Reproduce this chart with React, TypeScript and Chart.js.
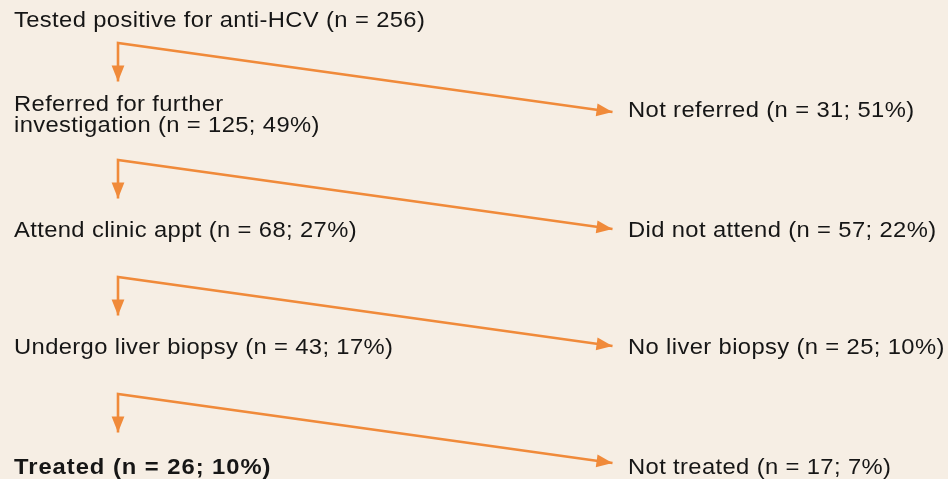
import React, { useEffect, useRef } from "react";
import { Chart, registerables } from "chart.js";

Chart.register(...registerables);

// ---- data ----
const stageLabels = [
  "Tested positive for anti-HCV",
  "Referred for further\ninvestigation",
  "Attend clinic appt",
  "Undergo liver biopsy",
  "Treated",
];
const stageN = [256, 125, 68, 43, 26];
const stagePct: (number | null)[] = [null, 49, 27, 17, 10];

const exitLabels = ["Not referred", "Did not attend", "No liver biopsy", "Not treated"];
const exitN = [31, 57, 25, 17];
const exitPct = [51, 22, 10, 7];

// ---- style ----
const BG = "#f6eee4";
const ORANGE = "#f08a3a";
const TEXT = "#161616";
const FONT_FAMILY = '"Liberation Sans", Arial, Helvetica, sans-serif';
const FONT_SIZE = 22;
const STRETCH = 1.08;
const SPACING = "0.35px";
const SPACING_BOLD = "0.9px";

// layout: x in px-units, y in step units (one step per stage)
const STEP_PX = 117;
const OFFSET_PX = -5;
const u = (px: number) => (px - OFFSET_PX) / STEP_PX;

const X_LEFT = 14;
const X_STEM = 118;
const X_EXIT_TIP = 612.5;
const X_RIGHT = 628;
const CORNER_OFF = u(43);
const DOWN_TIP_OFF = u(81.5);
const LEFT_BASELINES = [u(26.7), u(132), u(236.6), u(354), u(474.3)];
const RIGHT_BASELINES = [u(117.3), u(236.6), u(354), u(474.3)];
const LINE_GAP = 21 / STEP_PX;

function label(name: string, n: number, pct: number | null) {
  return pct == null ? `${name} (n = ${n})` : `${name} (n = ${n}; ${pct}%)`;
}

const connectors = exitLabels.map((_, i) => ({
  type: "line" as const,
  data: [
    { x: X_STEM, y: i + DOWN_TIP_OFF },
    { x: X_STEM, y: i + CORNER_OFF },
    { x: X_EXIT_TIP, y: i + 1 },
  ],
  borderColor: ORANGE,
  borderWidth: 2.6,
  pointRadius: 0,
  showLine: true,
  tension: 0,
  borderJoinStyle: "miter" as const,
}));

function drawArrow(ctx: CanvasRenderingContext2D, fromX: number, fromY: number, tipX: number, tipY: number) {
  const ang = Math.atan2(tipY - fromY, tipX - fromX);
  const len = 16;
  const half = 6.4;
  ctx.save();
  ctx.translate(tipX, tipY);
  ctx.rotate(ang);
  ctx.beginPath();
  ctx.moveTo(0, 0);
  ctx.lineTo(-len, -half);
  ctx.lineTo(-len, half);
  ctx.closePath();
  ctx.fillStyle = ORANGE;
  ctx.fill();
  ctx.restore();
}

function drawText(ctx: CanvasRenderingContext2D, text: string, x: number, y: number) {
  ctx.save();
  ctx.translate(x, y);
  ctx.scale(STRETCH, 1);
  ctx.fillText(text, 0, 0);
  ctx.restore();
}

const flowPlugin = {
  id: "flow",
  beforeDraw(chart: any) {
    const ctx = chart.ctx;
    ctx.save();
    ctx.fillStyle = BG;
    ctx.fillRect(0, 0, chart.width, chart.height);
    ctx.restore();
  },
  afterDatasetsDraw(chart: any) {
    const ctx = chart.ctx;
    chart.data.datasets.forEach((_: any, di: number) => {
      const pts = chart.getDatasetMeta(di).data;
      if (pts.length < 2) return;
      drawArrow(ctx, pts[1].x, pts[1].y, pts[0].x, pts[0].y);
      const n = pts.length;
      drawArrow(ctx, pts[n - 2].x, pts[n - 2].y, pts[n - 1].x, pts[n - 1].y);
    });
  },
  afterDraw(chart: any) {
    const ctx = chart.ctx;
    const xs = chart.scales.x;
    const ys = chart.scales.y;
    ctx.save();
    ctx.fillStyle = TEXT;
    ctx.textBaseline = "alphabetic";
    ctx.textAlign = "left";
    stageLabels.forEach((name, i) => {
      const bold = i === stageLabels.length - 1;
      ctx.font = `${bold ? "bold " : ""}${FONT_SIZE}px ${FONT_FAMILY}`;
      (ctx as any).letterSpacing = bold ? SPACING_BOLD : SPACING;
      const parts = name.split("\n");
      const full = label(parts[parts.length - 1], stageN[i], stagePct[i]);
      const lines = [...parts.slice(0, -1), full];
      const lastY = LEFT_BASELINES[i];
      lines.forEach((ln, k) => {
        const y = lastY - (lines.length - 1 - k) * LINE_GAP;
        drawText(ctx, ln, xs.getPixelForValue(X_LEFT), ys.getPixelForValue(y));
      });
    });
    ctx.font = `${FONT_SIZE}px ${FONT_FAMILY}`;
    (ctx as any).letterSpacing = SPACING;
    exitLabels.forEach((name, i) => {
      drawText(
        ctx,
        label(name, exitN[i], exitPct[i]),
        xs.getPixelForValue(X_RIGHT),
        ys.getPixelForValue(RIGHT_BASELINES[i])
      );
    });
    ctx.restore();
  },
};

export default function App() {
  const ref = useRef<HTMLCanvasElement>(null);
  useEffect(() => {
    document.body.style.margin = "0";
    document.body.style.background = BG;
    const chart = new Chart(ref.current!, {
      type: "scatter",
      data: { datasets: connectors as any },
      options: {
        animation: false,
        responsive: false,
        events: [],
        layout: { padding: 0 },
        plugins: { legend: { display: false }, tooltip: { enabled: false } },
        scales: {
          x: { type: "linear", min: 0, max: 948, display: false },
          y: { type: "linear", min: u(0), max: u(479), reverse: true, display: false },
        },
      },
      plugins: [flowPlugin],
    });
    return () => chart.destroy();
  }, []);
  return (
    <div style={{ width: 948, height: 479 }}>
      <canvas ref={ref} width={948} height={479} style={{ display: "block" }} />
    </div>
  );
}
